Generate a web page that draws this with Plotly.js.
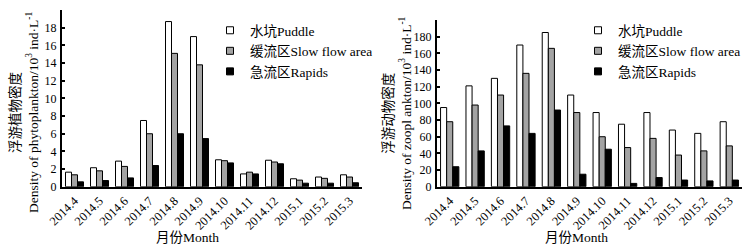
<!DOCTYPE html>
<html>
<head>
<meta charset="utf-8">
<script src="https://cdn.plot.ly/plotly-3.0.1.min.js"></script>
<style>html,body{margin:0;padding:0;background:#fff;}</style>
</head>
<body>
<div id="chart" style="width:750px;height:252px;"></div>
<script>
const months = ["2014.4","2014.5","2014.6","2014.7","2014.8","2014.9","2014.10","2014.11","2014.12","2015.1","2015.2","2015.3"];
const seriesNames = ["水坑Puddle","缓流区Slow flow area","急流区Rapids"];

// Phytoplankton density (10^3 ind/L)
const phytoPuddle = [1.65, 2.15, 2.9, 7.5, 18.7, 17.0, 3.05, 1.45, 3.0, 0.9, 1.1, 1.35];
const phytoSlow   = [1.35, 1.8, 2.3, 6.0, 15.1, 13.8, 2.95, 1.65, 2.8, 0.75, 0.95, 1.1];
const phytoRapids = [0.55, 0.7, 1.0, 2.4, 6.0, 5.45, 2.7, 1.45, 2.6, 0.4, 0.4, 0.45];

// Zooplankton density (10^3 ind/L)
const zooPuddle = [95, 121, 130, 170, 185, 110, 89, 75, 89, 68, 64, 78];
const zooSlow   = [78, 98, 110, 136, 166, 89, 60, 47, 58, 38, 43, 49];
const zooRapids = [24, 43, 73, 64, 92, 15, 45, 4, 11, 8, 7, 8];

const phytoTicks = [0,2,4,6,8,10,12,14,16,18];
const zooTicks = [0,20,40,60,80,100,120,140,160,180];

const FONT = "Liberation Serif, Times New Roman, Noto Sans CJK SC, serif";
const fills = ["#ffffff","#a3a3a3","#000000"];

function bars(vals, idx, xa, ya) {
  return {
    type: "bar", x: months, y: vals, name: seriesNames[idx],
    xaxis: xa, yaxis: ya, showlegend: false,
    marker: {color: fills[idx], line: {color: "#000", width: 1}},
    hoverinfo: "skip"
  };
}
function legendKey(idx, xa, ya, leg) {
  return {
    type: "scatter", mode: "markers", x: [null], y: [null], name: seriesNames[idx],
    xaxis: xa, yaxis: ya, legend: leg, showlegend: true,
    marker: {symbol: "square", size: 7, color: fills[idx], line: {color: "#000", width: 1}},
    hoverinfo: "skip"
  };
}

const data = [
  bars(phytoPuddle, 0, "x", "y"),
  bars(phytoSlow, 1, "x", "y"),
  bars(phytoRapids, 2, "x", "y"),
  bars(zooPuddle, 0, "x2", "y2"),
  bars(zooSlow, 1, "x2", "y2"),
  bars(zooRapids, 2, "x2", "y2"),
  legendKey(0, "x", "y", "legend"),
  legendKey(1, "x", "y", "legend"),
  legendKey(2, "x", "y", "legend"),
  legendKey(0, "x2", "y2", "legend2"),
  legendKey(1, "x2", "y2", "legend2"),
  legendKey(2, "x2", "y2", "legend2")
];

const xCommon = {
  type: "category", range: [-0.5, 11.5], showline: true, linecolor: "#000", linewidth: 2,
  ticks: "", tickangle: -45, tickfont: {family: FONT, size: 12.5, color: "#000"},
  showgrid: false, zeroline: false, fixedrange: true
};
const yCommon = {
  showline: true, linecolor: "#000", linewidth: 2, ticks: "inside", ticklen: 3, tickwidth: 2,
  tickcolor: "#000", tickfont: {family: FONT, size: 12, color: "#000"},
  showgrid: false, zeroline: false, fixedrange: true, ticklabelstandoff: 1
};
const legCommon = {
  font: {family: FONT, size: 13.5, color: "#000"},
  bgcolor: "rgba(0,0,0,0)", xanchor: "left", yanchor: "top", itemwidth: 30,
  tracegroupgap: 0, traceorder: "normal", itemsizing: "trace"
};

const layout = {
  width: 750, height: 252,
  margin: {l: 0, r: 0, t: 0, b: 0},
  paper_bgcolor: "#fff", plot_bgcolor: "#fff",
  barmode: "group", bargap: 0.28, bargroupgap: 0,
  xaxis: Object.assign({}, xCommon, {domain: [62/750, 362/750], anchor: "y"}),
  yaxis: Object.assign({}, yCommon, {domain: [0.259, 0.960], range: [0, 20], tickvals: phytoTicks, anchor: "x"}),
  xaxis2: Object.assign({}, xCommon, {domain: [437/750, 742/750], anchor: "y2"}),
  yaxis2: Object.assign({}, yCommon, {domain: [0.259, 0.9206], range: [0, 200], tickvals: zooTicks, anchor: "x2"}),
  legend: Object.assign({}, legCommon, {x: 210/750, y: 1 - 15/252}),
  legend2: Object.assign({}, legCommon, {x: 578/750, y: 1 - 15/252}),
  showlegend: true,
  annotations: [
    {text: "浮游植物密度<br>Density of phytoplankton/10<sup>3</sup> ind·L<sup>-1</sup>", textangle: -90,
     xref: "paper", yref: "paper", x: 24/750, y: 1 - 113/252, xanchor: "center", yanchor: "middle",
     showarrow: false, font: {family: FONT, size: 13.5, color: "#000"}},
    {text: "浮游动物密度<br>Density of zoopl ankton/10<sup>3</sup> ind·L<sup>-1</sup>", textangle: -90,
     xref: "paper", yref: "paper", x: 397/750, y: 1 - 113/252, xanchor: "center", yanchor: "middle",
     showarrow: false, font: {family: FONT, size: 13.5, color: "#000"}},
    {text: "月份Month", xref: "paper", yref: "paper", x: 187/750, y: 1 - 237/252,
     xanchor: "center", yanchor: "middle", showarrow: false, font: {family: FONT, size: 13.5, color: "#000"}},
    {text: "月份Month", xref: "paper", yref: "paper", x: 576/750, y: 1 - 237/252,
     xanchor: "center", yanchor: "middle", showarrow: false, font: {family: FONT, size: 13.5, color: "#000"}}
  ]
};

Plotly.newPlot("chart", data, layout, {staticPlot: true, displayModeBar: false});
</script>
</body>
</html>
